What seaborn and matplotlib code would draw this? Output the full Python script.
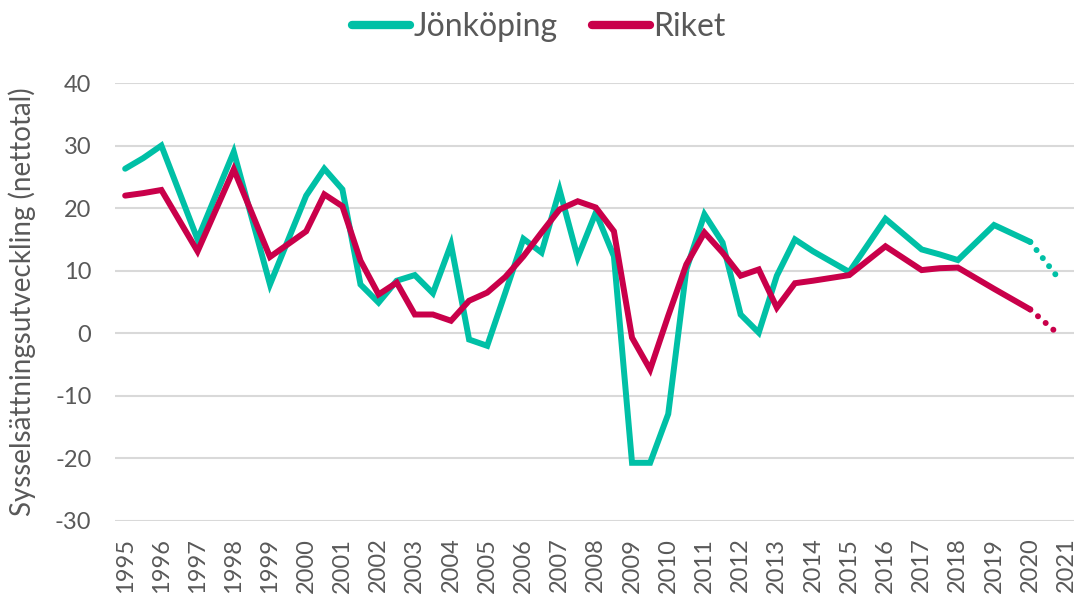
import matplotlib
matplotlib.use("Agg")
import matplotlib.pyplot as plt
from matplotlib.lines import Line2D
import numpy as np
import pandas as pd
import seaborn as sns

# half-year survey periods (fractional years)
periods = [1995.0, 1995.5, 1996.0, 1997.0, 1998.0, 1999.0, 2000.0, 2000.5,
           2001.0, 2001.5, 2002.0, 2002.5, 2003.0, 2003.5, 2004.0, 2004.5,
           2005.0, 2005.5, 2006.0, 2006.5, 2007.0, 2007.5, 2008.0, 2008.5,
           2009.0, 2009.5, 2010.0, 2010.5, 2011.0, 2011.5, 2012.0, 2012.5,
           2013.0, 2013.5, 2014.0, 2015.0, 2016.0, 2017.0, 2017.5, 2018.0,
           2019.0, 2020.0]
jonkoping = [26.3, 28.0, 30.0, 15.0, 29.0, 7.8, 22.0, 26.3,
             23.0, 7.8, 4.9, 8.4, 9.3, 6.4, 14.2, -1.0,
             -2.0, 6.5, 15.1, 12.9, 22.9, 12.1, 19.3, 12.3,
             -20.7, -20.7, -12.9, 10.2, 19.0, 14.5, 3.0, 0.1,
             9.2, 15.0, 13.1, 9.8, 18.3, 13.4, 12.6, 11.7,
             17.3, 14.6]
riket = [22.0, 22.4, 22.9, 13.1, 26.2, 12.2, 16.3, 22.2,
         20.3, 11.6, 6.2, 8.1, 3.0, 3.0, 2.0, 5.2,
         6.5, 9.0, 12.3, 16.1, 19.8, 21.1, 20.1, 16.3,
         -0.7, -5.8, 2.8, 11.0, 16.1, 12.9, 9.2, 10.2,
         4.1, 8.0, 8.4, 9.3, 13.9, 10.1, 10.4, 10.5,
         7.1, 3.8]

# forecast (dotted) segment
forecast_period = [2020.0, 2020.75]
jonkoping_fc = [14.6, 9.0]
riket_fc = [3.8, 0.0]

years = list(range(1995, 2022))

teal = "#00C0A6"
red = "#C9004A"
grey = "#595959"

sns.set_style("white")
plt.rcParams['font.family'] = ['Lato', 'DejaVu Sans']
plt.rcParams['axes.unicode_minus'] = False

fig = plt.figure(figsize=(10.78, 5.95), dpi=100)
ax = fig.add_axes([0.1067, 0.1244, 0.890, 0.7361])

for yv in range(-30, 41, 10):
    ax.axhline(yv, color="#D9D9D9", lw=1.5, zorder=0)

df = pd.DataFrame({"period": periods, "Jönköping": jonkoping, "Riket": riket})
fc = pd.DataFrame({"period": forecast_period, "Jönköping": jonkoping_fc, "Riket": riket_fc})

for name, col in [("Jönköping", teal), ("Riket", red)]:
    sns.lineplot(data=df, x="period", y=name, ax=ax, color=col, lw=4.3,
                 solid_joinstyle="miter", solid_capstyle="round")
    sns.lineplot(data=fc, x="period", y=name, ax=ax, color=col, lw=4.3,
                 linestyle=(0, (0.01, 1.7)), dash_capstyle="round")

ax.set_xlim(1994.72, 2021.22)
ax.set_ylim(-30, 40)
ax.set_xticks(years)
ax.set_xticklabels([str(y) for y in years], rotation=90)
ax.set_yticks(range(-30, 41, 10))
ax.tick_params(axis="both", length=0, labelsize=17, colors=grey)
ax.tick_params(axis="y", pad=17)
ax.tick_params(axis="x", pad=12)
for s in ax.spines.values():
    s.set_visible(False)
ax.set_xlabel("")
ax.set_ylabel("Sysselsättningsutveckling (nettotal)", fontsize=20, color=grey)
ax.yaxis.set_label_coords(-0.082, 0.5)

handles = [Line2D([0], [0], color=teal, lw=6, solid_capstyle="round"),
           Line2D([0], [0], color=red, lw=6, solid_capstyle="round")]
fig.legend(handles, ["Jönköping", "Riket"], loc="center", bbox_to_anchor=(0.5, 0.955),
           ncol=2, frameon=False, fontsize=23, labelcolor=grey,
           handlelength=1.8, handletextpad=0.1, columnspacing=1.1)

fig.savefig("out.png", dpi=100)
